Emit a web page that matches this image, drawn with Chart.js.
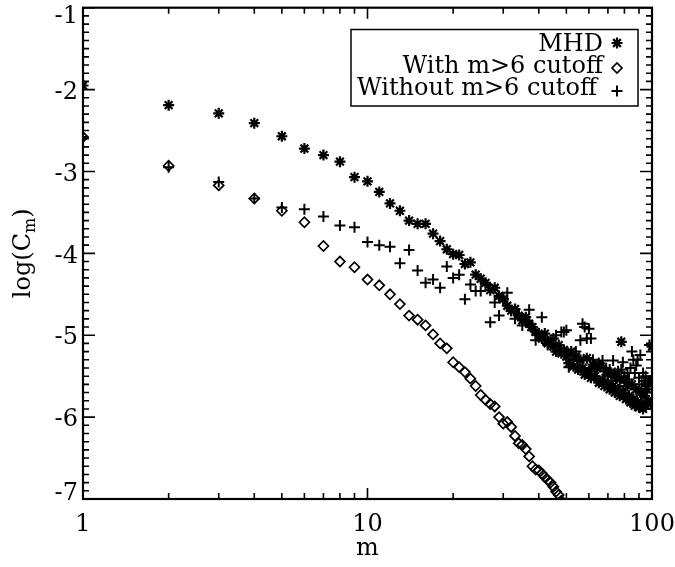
<!DOCTYPE html>
<html>
<head>
<meta charset="utf-8">
<script src="https://cdn.jsdelivr.net/npm/chart.js@4/dist/chart.umd.min.js"></script>
<style>
  html, body { margin: 0; padding: 0; background: #fff; }
  #wrap { width: 675px; height: 567px; }
</style>
</head>
<body>
<div id="wrap"><canvas id="spectrum" width="675" height="567"></canvas></div>
<script>
// azimuthal mode number m
const mValues = [1,2,3,4,5,6,7,8,9,10,11,12,13,14,15,16,17,18,19,20,
  21,22,23,24,25,26,27,28,29,30,31,32,33,34,35,36,37,38,39,40,
  41,42,43,44,45,46,47,48,49,50,51,52,53,54,55,56,57,58,59,60,
  61,62,63,64,65,66,67,68,69,70,71,72,73,74,75,76,77,78,79,80,
  81,82,83,84,85,86,87,88,89,90,91,92,93,94,95,96,97,98,99,100];

// log(C_m), MHD run
const mhdValues = [-1.95,-2.19,-2.29,-2.41,-2.57,-2.72,-2.80,-2.88,-3.07,-3.12,
  -3.25,-3.39,-3.48,-3.60,-3.64,-3.64,-3.76,-3.85,-3.95,-4.01,
  -4.02,-4.13,-4.11,-4.26,-4.31,-4.36,-4.45,-4.42,-4.52,-4.56,
  -4.64,-4.70,-4.68,-4.76,-4.82,-4.78,-4.86,-4.90,-4.96,-5.00,
  -5.04,-4.98,-5.10,-5.06,-5.14,-5.20,-5.12,-5.22,-5.18,-5.26,
  -5.34,-5.20,-5.38,-5.26,-5.42,-5.30,-5.40,-5.48,-5.28,-5.44,
  -5.52,-5.36,-5.50,-5.40,-5.58,-5.38,-5.54,-5.62,-5.44,-5.58,
  -5.66,-5.48,-5.62,-5.70,-5.52,-5.66,-5.74,-5.08,-5.70,-5.54,
  -5.78,-5.62,-5.74,-5.82,-5.60,-5.78,-5.86,-5.66,-5.82,-5.88,
  -5.70,-5.84,-5.90,-5.74,-5.86,-5.66,-5.80,-5.56,-5.84,-5.14];

// log(C_m), with m>6 cutoff (m = 1..48, the rest is below the axis)
const withCutoffValues = [-2.58,-2.93,-3.17,-3.33,-3.48,-3.62,-3.91,-4.10,-4.17,-4.32,
  -4.39,-4.50,-4.62,-4.76,-4.81,-4.88,-4.99,-5.10,-5.16,-5.33,
  -5.39,-5.45,-5.53,-5.62,-5.73,-5.79,-5.84,-5.87,-6.00,-6.08,
  -6.06,-6.12,-6.23,-6.32,-6.34,-6.39,-6.48,-6.60,-6.64,-6.65,
  -6.69,-6.73,-6.77,-6.80,-6.85,-6.91,-6.95,-7.02];

// log(C_m), without m>6 cutoff
const withoutCutoffValues = [-2.58,-2.95,-3.13,-3.33,-3.44,-3.46,-3.55,-3.66,-3.68,-3.86,
  -3.90,-3.92,-4.12,-3.96,-4.21,-4.36,-4.32,-4.42,-4.16,-4.30,
  -4.26,-4.56,-4.38,-4.46,-4.46,-4.38,-4.84,-4.60,-4.76,-4.56,
  -4.48,-4.70,-4.80,-4.74,-4.88,-4.82,-4.69,-4.94,-5.06,-4.98,
  -4.78,-5.06,-5.12,-5.10,-5.04,-5.00,-5.18,-4.96,-4.96,-4.94,
  -5.39,-5.24,-5.30,-5.20,-5.28,-5.06,-4.86,-4.90,-5.04,-4.92,
  -5.04,-5.30,-5.36,-5.40,-5.34,-5.37,-5.31,-5.44,-5.40,-5.48,
  -5.42,-5.50,-5.31,-5.46,-5.52,-5.44,-5.56,-5.42,-5.33,-5.50,
  -5.58,-5.46,-5.54,-5.40,-5.20,-5.30,-5.46,-5.37,-5.30,-5.52,
  -5.24,-5.60,-5.46,-5.56,-5.50,-5.62,-5.58,-5.12,-5.56,-5.62];

const xTickValues = [1, 10, 100];
const yTickValues = [-7, -6, -5, -4, -3, -2, -1];
const legendLabels = ['MHD', 'With m>6 cutoff', 'Without m>6 cutoff'];

const FONT = 'DejaVu Serif';

function toPoints(vals){
    return vals.map((v, i) => ({ x: mValues[i], y: v }));
}

const seriesStyles = [
    { pointStyle: 'star', pointRadius: 5.5, borderWidth: 2.2 },
    { pointStyle: 'rectRot', pointRadius: 5, borderWidth: 1.7 },
    { pointStyle: 'cross', pointRadius: 5.5, borderWidth: 2 }
];

// box with inward ticks on all four sides, like the original plot
const framePlugin = {
    id: 'frame',
    afterDatasetsDraw(chart){
        const { ctx, chartArea: a, scales: { x, y } } = chart;
        ctx.save();
        ctx.strokeStyle = '#000';
        ctx.lineWidth = 1.6;
        ctx.beginPath();
        for(let d = 1; d < 100; d *= 10){
            for(let k = 1; k <= 10; k++){
                const px = x.getPixelForValue(d * k);
                const len = (k === 1 || k === 10) ? 11 : 6;
                ctx.moveTo(px, a.bottom); ctx.lineTo(px, a.bottom - len);
                ctx.moveTo(px, a.top); ctx.lineTo(px, a.top + len);
            }
        }
        for(let i = 0; i <= 60; i++){
            const py = y.getPixelForValue(y.min + i / 10);
            const len = (i % 10 === 0) ? 12 : 6;
            ctx.moveTo(a.left, py); ctx.lineTo(a.left + len, py);
            ctx.moveTo(a.right, py); ctx.lineTo(a.right - len, py);
        }
        ctx.stroke();
        ctx.lineWidth = 2.2;
        ctx.strokeRect(a.left, a.top, a.right - a.left, a.bottom - a.top);

        const big = '24px "' + FONT + '"', small = '16px "' + FONT + '"';
        ctx.fillStyle = '#000';

        // y tick labels, kept inside the box height like the original
        ctx.font = big;
        ctx.textAlign = 'right';
        ctx.textBaseline = 'middle';
        yTickValues.forEach(v => {
            let py = y.getPixelForValue(v) + 3;
            py = Math.max(a.top + 9, Math.min(a.bottom - 5, py));
            ctx.fillText(String(v), a.left - 5, py);
        });

        // y title with subscript
        ctx.textBaseline = 'alphabetic';
        ctx.font = big; const w1 = ctx.measureText('log(C').width; const w3 = ctx.measureText(')').width;
        ctx.font = small; const w2 = ctx.measureText('m').width;
        const total = w1 + w2 + w3;
        ctx.translate(30, (a.top + a.bottom) / 2);
        ctx.rotate(-Math.PI / 2);
        let tx = -total / 2;
        ctx.font = big; ctx.textAlign = 'left';
        ctx.fillText('log(C', tx, 0); tx += w1;
        ctx.font = small; ctx.fillText('m', tx, 5); tx += w2;
        ctx.font = big; ctx.fillText(')', tx, 0);
        ctx.restore();

        // legend, right aligned text with the symbol after it
        ctx.save();
        ctx.lineWidth = 1.5;
        ctx.strokeStyle = '#000';
        ctx.strokeRect(351, 29.5, 287, 76.5);
        ctx.font = big;
        ctx.textAlign = 'right';
        ctx.textBaseline = 'alphabetic';
        ctx.fillStyle = '#000';
        const baselines = [51, 73, 95];
        const textRight = [603, 603, 597];
        const symY = [43, 68, 91];
        legendLabels.forEach((lab, i) => {
            ctx.fillText(lab, textRight[i], baselines[i]);
            const s = seriesStyles[i];
            ctx.save();
            ctx.lineWidth = s.borderWidth;
            ctx.strokeStyle = '#000';
            ctx.fillStyle = 'rgba(0,0,0,0)';
            Chart.helpers.drawPoint(ctx, { pointStyle: s.pointStyle, radius: s.pointRadius, rotation: 0, borderWidth: s.borderWidth }, 617, symY[i]);
            ctx.restore();
        });
        ctx.restore();
    }
};

document.addEventListener('DOMContentLoaded', function(){
    const canvas = document.getElementById('spectrum');
    const datasets = [mhdValues, withCutoffValues, withoutCutoffValues].map((vals, i) => ({
        label: legendLabels[i],
        data: toPoints(vals),
        showLine: false,
        pointStyle: seriesStyles[i].pointStyle,
        pointRadius: seriesStyles[i].pointRadius,
        pointBorderWidth: seriesStyles[i].borderWidth,
        borderColor: '#000',
        backgroundColor: 'rgba(0,0,0,0)'
    }));

    new Chart(canvas, {
        type: 'scatter',
        data: { datasets: datasets },
        options: {
            responsive: false,
            animation: false,
            devicePixelRatio: 1,
            events: [],
            layout: { padding: { left: 0, top: 6, right: 23, bottom: 0 } },
            plugins: { legend: { display: false }, tooltip: { enabled: false } },
            scales: {
                x: {
                    type: 'logarithmic',
                    min: 1, max: 100,
                    grid: { display: false, drawTicks: false },
                    border: { display: false },
                    afterBuildTicks: s => { s.ticks = xTickValues.map(v => ({ value: v })); },
                    afterFit: s => { s.height = 68; s.paddingLeft = 0; s.paddingRight = 0; },
                    ticks: {
                        autoSkip: false, maxRotation: 0, padding: 11,
                        color: '#000', font: { family: FONT, size: 24 },
                        callback: v => String(v)
                    },
                    title: {
                        display: true, text: 'm', color: '#000',
                        font: { family: FONT, size: 24 }, padding: { top: 0, bottom: 4 }
                    }
                },
                y: {
                    min: -7, max: -1,
                    grid: { display: false, drawTicks: false },
                    border: { display: false },
                    afterBuildTicks: s => { s.ticks = yTickValues.map(v => ({ value: v })); },
                    afterFit: s => { s.width = 83; s.paddingTop = 0; s.paddingBottom = 0; },
                    ticks: { display: false }
                }
            }
        },
        plugins: [framePlugin]
    });
});
</script>
</body>
</html>
